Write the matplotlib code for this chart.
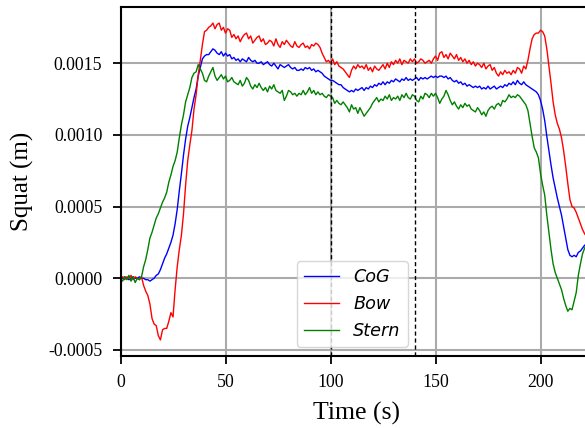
import matplotlib
matplotlib.use('Agg')
import matplotlib.pyplot as plt
import numpy as np
from matplotlib.ticker import FormatStrFormatter

# squat values in units of 1e-5 m, sampled every second from t = 0 to 222 s
bow = [
    0, 1, -1, 1, 0, 2, -1, 1, 0, -1,
    1, -5, -9, -12, -18, -28, -32, -33, -40, -43,
    -36, -35, -35, -30, -24, -27, -8, 8, 20, 30,
    45, 65, 82, 93, 103, 118, 128, 142, 152, 163,
    172, 173, 175, 176, 178, 174, 177, 178, 173, 175,
    171, 174, 173, 168, 170, 167, 169, 165, 168, 170,
    171, 167, 169, 164, 166, 168, 169, 165, 167, 163,
    164, 166, 165, 162, 167, 163, 161, 165, 163, 166,
    164, 162, 161, 165, 162, 161, 163, 164, 161, 162,
    160, 163, 162, 164, 163, 161, 157, 154, 151, 152,
    150, 153, 149, 151, 148, 147, 146, 144, 142, 140,
    145, 148, 146, 149, 147, 148, 146, 149, 145, 147,
    144, 148, 146, 145, 147, 149, 146, 150, 147, 151,
    149, 152, 150, 153, 149, 152, 151, 150, 153, 151,
    153, 150, 151, 153, 152, 150, 151, 152, 150, 153,
    155, 152, 157, 158, 154, 156, 153, 157, 155, 153,
    156, 152, 154, 151, 153, 150, 152, 149, 151, 148,
    150, 149, 147, 150, 146, 148, 149, 145, 147, 143,
    141, 144, 142, 145, 143, 144, 142, 145, 143, 147,
    146, 143, 148, 146, 152, 160, 167, 170, 171, 171,
    173, 172, 169, 160, 148, 136, 123, 114, 108, 104,
    98, 89, 78, 66, 55, 50, 49, 46, 42, 38,
    34, 31, 29,
]
cog = [
    0, 0, 1, 0, -1, 0, 1, 0, 0, 1,
    0, 0, -1, -1, -2, -1, 0, 2, 3, 6,
    10, 14, 17, 21, 25, 30, 38, 48, 61, 73,
    86, 97, 106, 112, 119, 126, 132, 141, 147, 153,
    155, 156, 156, 158, 160, 159, 157, 156, 158, 155,
    157, 155, 156, 153, 154, 152, 153, 151, 153, 152,
    151, 154, 152, 151, 152, 150, 150, 151, 149, 150,
    151, 149, 148, 150, 148, 146, 149, 148, 147, 148,
    149, 147, 146, 147, 145, 145, 146, 145, 147, 146,
    147, 145, 146, 144, 145, 144, 143, 141, 140, 139,
    138, 138, 137, 136, 135, 135, 133, 132, 131, 130,
    131, 130, 132, 131, 132, 133, 131, 133, 132, 134,
    133, 135, 134, 136, 135, 137, 135, 137, 136, 138,
    137, 139, 138, 137, 139, 138, 140, 138, 139, 138,
    139, 140, 138, 140, 139, 140, 139, 140, 141, 140,
    141, 140, 141, 141, 140, 141, 139, 140, 138, 137,
    138, 136, 137, 135, 136, 134, 135, 134, 133, 134,
    133, 134, 132, 133, 132, 134, 132, 133, 134, 132,
    133, 134, 133, 135, 134, 136, 135, 137, 135, 138,
    136, 135, 137, 135, 134, 133, 132, 131, 130, 128,
    124, 118, 110, 99, 89, 79, 70, 63, 56, 50,
    44, 36, 28, 20, 16, 15, 16, 15, 18, 19,
    21, 23, 24,
]
stern = [
    0, -2, 1, -1, 2, -2, 1, -3, 0, -1,
    1, 8, 13, 20, 28, 32, 37, 42, 45, 49,
    53, 56, 60, 67, 72, 78, 82, 88, 98, 107,
    114, 123, 128, 133, 140, 143, 144, 149, 146, 143,
    138, 137, 141, 144, 147, 141, 138, 140, 142, 139,
    141, 137, 138, 140, 137, 136, 135, 138, 134, 136,
    140, 138, 134, 132, 135, 133, 136, 133, 131, 133,
    130, 134, 132, 135, 131, 130, 129, 131, 124, 127,
    131, 130, 128, 129, 127, 129, 128, 131, 128, 130,
    133, 129, 131, 128, 130, 128, 129, 127, 126, 128,
    127, 126, 122, 124, 122, 121, 123, 121, 119, 116,
    121, 118, 119, 115, 119, 116, 113, 115, 117, 119,
    122, 124, 126, 123, 125, 124, 127, 125, 128, 124,
    126, 125, 127, 124, 128, 126, 129, 126, 125, 128,
    127, 124, 123, 127, 125, 129, 128, 126, 129, 127,
    129, 126, 122, 125, 127, 131, 128, 124, 121, 123,
    120, 118, 121, 119, 122, 120, 121, 118, 117, 116,
    119, 117, 114, 116, 113, 117, 119, 120, 118, 121,
    122, 120, 124, 123, 125, 128, 126, 127, 126, 128,
    127, 125, 123, 121, 117, 108, 99, 91, 88, 84,
    73, 65, 58, 44, 32, 20, 10, 4, 0, -4,
    -8, -14, -19, -23, -21, -22, -16, -10, 2, 10,
    17, 21, 24,
]
markers_t = [100, 140]

plt.rcParams['axes.unicode_minus'] = False
serif = 'Liberation Serif'

time = np.arange(len(cog))
fig = plt.figure(figsize=(5.85, 4.28), dpi=100)
ax = fig.add_axes([0.206, 0.169, 0.8077, 0.814])

ax.plot(time, np.array(cog) * 1e-5, color='b', lw=1.0, label='CoG')
ax.plot(time, np.array(bow) * 1e-5, color='r', lw=1.0, label='Bow')
ax.plot(time, np.array(stern) * 1e-5, color='g', lw=1.0, label='Stern')
for t in markers_t:
    ax.axvline(t, color='k', lw=1.0, dashes=(3, 2))

ax.set_xlim(0, 225)
ax.set_ylim(-0.00054, 0.00189)
ax.set_xticks([0, 50, 100, 150, 200])
ax.set_yticks([-0.0005, 0.0, 0.0005, 0.0010, 0.0015])
ax.yaxis.set_major_formatter(FormatStrFormatter('%.4f'))
ax.grid(True, color='#aaaaaa', lw=1.5)
ax.set_axisbelow(True)
for s in ax.spines.values():
    s.set_linewidth(1.5)
ax.tick_params(direction='out', length=6, width=1.3, pad=7, labelsize=12.8)
for lab in ax.get_xticklabels() + ax.get_yticklabels():
    lab.set_family(serif)

ax.set_xlabel('Time (s)', family=serif, fontsize=18.5, labelpad=8)
ax.set_ylabel('Squat (m)', family=serif, fontsize=18, labelpad=10)

leg = ax.legend(loc='lower left', bbox_to_anchor=(0.373, 0.025), borderaxespad=0,
                prop={'family': 'DejaVu Sans', 'style': 'italic', 'size': 12.7})

fig.savefig('out.png', dpi=100)
